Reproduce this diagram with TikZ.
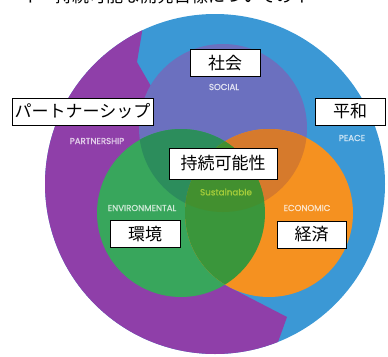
\documentclass[tikz,border=0pt]{standalone}
\usepackage{fontspec}
\newfontfamily\jp{Noto Sans CJK JP}
\newfontfamily\lab[FakeBold=1.2]{Poppins}
\definecolor{peaceblue}{HTML}{3B98D5}
\definecolor{partnerpurple}{HTML}{8F3FA9}
\definecolor{socialc}{HTML}{6B70BF}
\definecolor{envc}{HTML}{38A65C}
\definecolor{ecoc}{HTML}{F59120}
\definecolor{socenv}{HTML}{2C8D5C}
\definecolor{soceco}{HTML}{D67A2C}
\definecolor{enveco}{HTML}{3A963B}
\definecolor{allc}{HTML}{42902F}
\definecolor{susttext}{HTML}{A3CC3A}
\tikzset{
  jpbox/.style={draw=black, line width=0.9pt, fill=white, inner sep=0pt, minimum height=27pt, font=\jp\fontsize{17}{17}\selectfont},
  entext/.style={font=\lab\fontsize{8.6}{8.6}\selectfont, inner sep=0pt}
}
\begin{document}
\begin{tikzpicture}[x=1pt,y=-1pt]
\useasboundingbox (0,0) rectangle (388,356);
\clip (0,0) rectangle (388,356);
% partially visible title line
\node[anchor=base west, inner sep=0pt, font=\jp\fontsize{17}{17}\selectfont] (title) at (4,2) {ーイ・持続可能な開発目標についてのイ};
% outer ring
\fill[peaceblue] (215,184) circle (170);
\begin{scope}
  \clip (215,184) circle (170);
  \fill[partnerpurple] (0,-10) -- (144,-10) -- (144,20) -- (137,62) -- (152,88) -- (225,285) -- (287,317) -- (268,370) -- (0,370) -- cycle;
\end{scope}
% three circles
\fill[socialc] (223,128) circle (84);
\fill[envc] (181,213) circle (84);
\fill[ecoc] (269,213) circle (84);
\begin{scope}
  \clip (223,128) circle (84);
  \fill[socenv] (181,213) circle (84);
  \fill[soceco] (269,213) circle (84);
\end{scope}
\begin{scope}
  \clip (181,213) circle (84);
  \fill[enveco] (269,213) circle (84);
\end{scope}
\begin{scope}
  \clip (223,128) circle (84);
  \clip (181,213) circle (84);
  \fill[allc] (269,213) circle (84);
\end{scope}
% English labels
\node[entext, text=white!80!socialc] (social) at (224,87) {SOCIAL};
\node[entext, text=white!75!partnerpurple] (partnership) at (97,141) {PARTNERSHIP};
\node[entext, text=white!75!peaceblue] (peace) at (352,138) {PEACE};
\node[entext, text=white!75!envc] (environmental) at (142,208) {ENVIRONMENTAL};
\node[entext, text=white!75!ecoc] (economic) at (307,208) {ECONOMIC};
\node[entext, text=susttext, font=\lab\fontsize{8.8}{8.8}\selectfont] (sustainable) at (226,192) {Sustainable};
% Japanese boxes
\node[jpbox, minimum width=70pt] (shakai) at (225,63) {社会};
\node[jpbox, minimum width=141pt] (partner) at (82.5,111.5) {パートナーシップ};
\node[jpbox, minimum width=70pt] (heiwa) at (350,111.5) {平和};
\node[jpbox, minimum width=108pt, minimum height=31pt] (jizoku) at (223,163.5) {持続可能性};
\node[jpbox, minimum width=70pt] (kankyo) at (145,234) {環境};
\node[jpbox, minimum width=69pt] (keizai) at (311.5,234.5) {経済};
\end{tikzpicture}
\end{document}
